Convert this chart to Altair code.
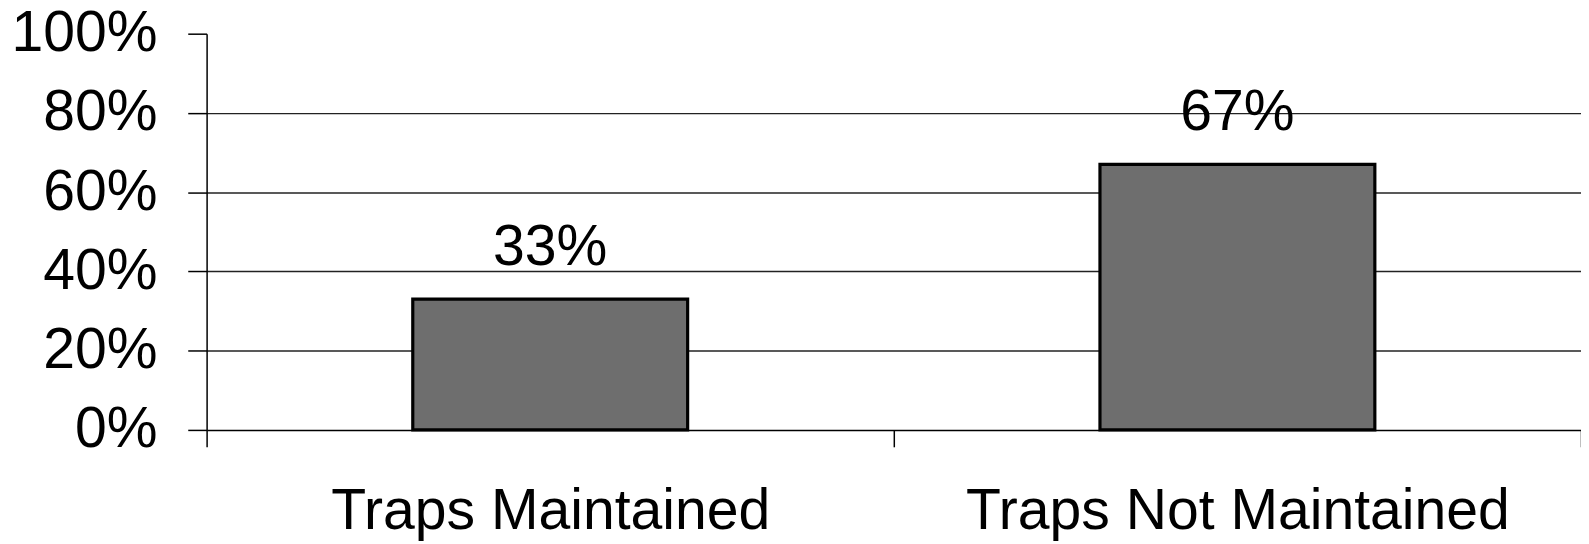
import altair as alt
import pandas as pd

categories = ["Traps Maintained", "Traps Not Maintained"]
values = [0.33, 0.67]
y_ticks = [0, 0.2, 0.4, 0.6, 0.8, 1.0]

df = pd.DataFrame({"cat": categories, "val": values})

W, H = 1384, 399
BAR_FRAC = 0.4
FONT = "Liberation Sans"
FS = 57.5

base = alt.Chart(df).encode(
    x=alt.X(
        "cat:N",
        sort=categories,
        title=None,
        scale=alt.Scale(paddingInner=0, paddingOuter=0),
        axis=alt.Axis(
            labelAngle=0,
            labelFontSize=FS,
            labelFont=FONT,
            labelColor="#000000",
            labelPadding=37,
            labelLimit=0,
            tickSize=17,
            tickColor="#000000",
            tickWidth=1.5,
            tickBand="extent",
            domainColor="#000000",
            domainWidth=1.5,
            grid=False,
        ),
    ),
    y=alt.Y(
        "val:Q",
        title=None,
        scale=alt.Scale(domain=[0, 1], nice=False),
        axis=alt.Axis(
            values=y_ticks,
            format=".0%",
            labelFontSize=FS,
            labelFont=FONT,
            labelColor="#000000",
            labelPadding=31,
            tickSize=19,
            tickColor="#000000",
            tickWidth=1.5,
            domainColor="#000000",
            domainWidth=1.5,
            grid=True,
            gridColor="#222222",
            gridWidth=1.5,
            gridOpacity={"condition": {"test": "datum.value >= 1 || datum.value <= 0", "value": 0}, "value": 1},
        ),
    ),
)

bars = base.mark_bar(
    width=alt.RelativeBandSize(BAR_FRAC),
    fill="#6e6e6e",
    stroke="#000000",
    strokeWidth=3.2,
)

text = base.mark_text(
    fontSize=FS, font=FONT, color="#000000", baseline="alphabetic", dy=-34.5
).encode(text=alt.Text("val:Q", format=".0%"))

chart = alt.layer(bars, text).properties(
    width=W,
    height=H,
    autosize=alt.AutoSizeParams(type="none"),
    padding={"left": 200, "top": 24, "right": 0, "bottom": 111},
).configure_view(stroke=None)

chart.save("out.html", embed_options={"renderer": "svg", "actions": False})
